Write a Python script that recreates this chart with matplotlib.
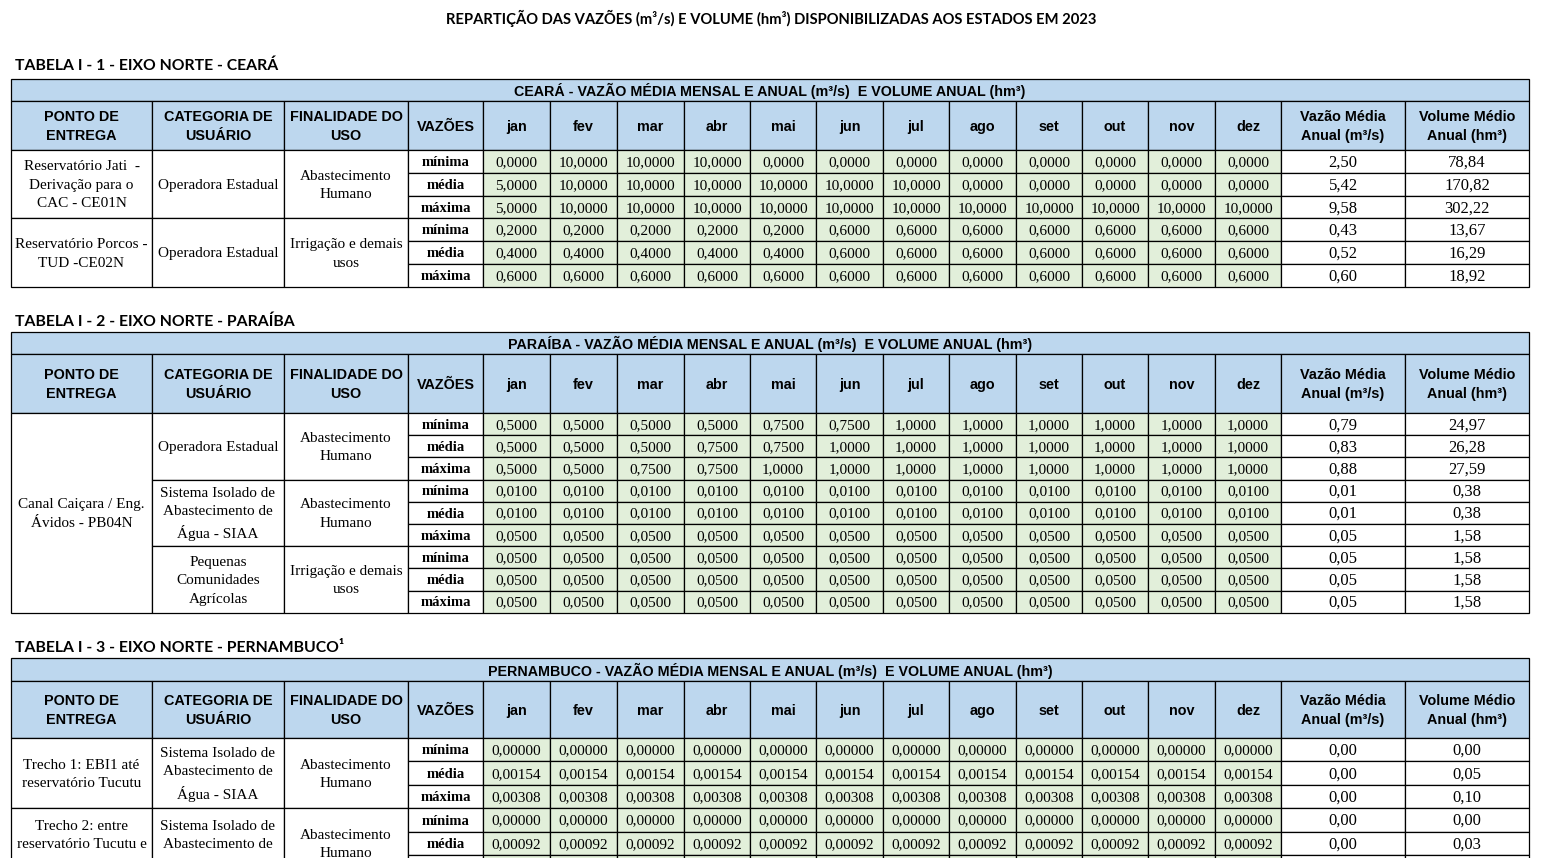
import matplotlib
matplotlib.use("Agg")
import matplotlib.pyplot as plt
from matplotlib.patches import Rectangle

# --- textos gerais ---
titulo = "REPARTIÇÃO DAS VAZÕES (m³/s) E VOLUME (hm³) DISPONIBILIZADAS AOS ESTADOS EM 2023"
meses = ["jan", "fev", "mar", "abr", "mai", "jun", "jul", "ago", "set", "out", "nov", "dez"]
vazoes = ["mínima", "média", "máxima"]
cab_esq = ["PONTO DE\nENTREGA", "CATEGORIA DE\nUSUÁRIO", "FINALIDADE DO\nUSO", "VAZÕES"]
cab_dir = ["Vazão Média\nAnual (m³/s)", "Volume Médio\nAnual (hm³)"]

# --- Tabela I-1 Ceará ---
ce_titulo = "TABELA I - 1 - EIXO NORTE - CEARÁ"
ce_faixa = "CEARÁ - VAZÃO MÉDIA MENSAL E ANUAL (m³/s)  E VOLUME ANUAL (hm³)"
ce_ponto = ["Reservatório Jati  -\nDerivação para o\nCAC - CE01N", "Reservatório Porcos -\nTUD -CE02N"]
ce_ponto_n = [3, 3]
ce_categoria = ["Operadora Estadual", "Operadora Estadual"]
ce_categoria_n = [3, 3]
ce_finalidade = ["Abastecimento\nHumano", "Irrigação e demais\nusos"]
ce_finalidade_n = [3, 3]
ce_mensal = [
    [0.0, 10.0, 10.0, 10.0, 0.0, 0.0, 0.0, 0.0, 0.0, 0.0, 0.0, 0.0],
    [5.0, 10.0, 10.0, 10.0, 10.0, 10.0, 10.0, 0.0, 0.0, 0.0, 0.0, 0.0],
    [5.0, 10.0, 10.0, 10.0, 10.0, 10.0, 10.0, 10.0, 10.0, 10.0, 10.0, 10.0],
    [0.2, 0.2, 0.2, 0.2, 0.2, 0.6, 0.6, 0.6, 0.6, 0.6, 0.6, 0.6],
    [0.4, 0.4, 0.4, 0.4, 0.4, 0.6, 0.6, 0.6, 0.6, 0.6, 0.6, 0.6],
    [0.6, 0.6, 0.6, 0.6, 0.6, 0.6, 0.6, 0.6, 0.6, 0.6, 0.6, 0.6],
]
ce_vazao = [2.50, 5.42, 9.58, 0.43, 0.52, 0.60]
ce_volume = [78.84, 170.82, 302.22, 13.67, 16.29, 18.92]

# --- Tabela I-2 Paraíba ---
pb_titulo = "TABELA I - 2 - EIXO NORTE - PARAÍBA"
pb_faixa = "PARAÍBA - VAZÃO MÉDIA MENSAL E ANUAL (m³/s)  E VOLUME ANUAL (hm³)"
pb_ponto = ["Canal Caiçara / Eng.\nÁvidos - PB04N"]
pb_ponto_n = [9]
pb_categoria = ["Operadora Estadual", "Sistema Isolado de\nAbastecimento de\nÁgua - SIAA",
                "Pequenas\nComunidades\nAgrícolas"]
pb_categoria_n = [3, 3, 3]
pb_finalidade = ["Abastecimento\nHumano", "Abastecimento\nHumano", "Irrigação e demais\nusos"]
pb_finalidade_n = [3, 3, 3]
pb_mensal = [
    [0.5, 0.5, 0.5, 0.5, 0.75, 0.75, 1.0, 1.0, 1.0, 1.0, 1.0, 1.0],
    [0.5, 0.5, 0.5, 0.75, 0.75, 1.0, 1.0, 1.0, 1.0, 1.0, 1.0, 1.0],
    [0.5, 0.5, 0.75, 0.75, 1.0, 1.0, 1.0, 1.0, 1.0, 1.0, 1.0, 1.0],
    [0.01, 0.01, 0.01, 0.01, 0.01, 0.01, 0.01, 0.01, 0.01, 0.01, 0.01, 0.01],
    [0.01, 0.01, 0.01, 0.01, 0.01, 0.01, 0.01, 0.01, 0.01, 0.01, 0.01, 0.01],
    [0.05, 0.05, 0.05, 0.05, 0.05, 0.05, 0.05, 0.05, 0.05, 0.05, 0.05, 0.05],
    [0.05, 0.05, 0.05, 0.05, 0.05, 0.05, 0.05, 0.05, 0.05, 0.05, 0.05, 0.05],
    [0.05, 0.05, 0.05, 0.05, 0.05, 0.05, 0.05, 0.05, 0.05, 0.05, 0.05, 0.05],
    [0.05, 0.05, 0.05, 0.05, 0.05, 0.05, 0.05, 0.05, 0.05, 0.05, 0.05, 0.05],
]
pb_vazao = [0.79, 0.83, 0.88, 0.01, 0.01, 0.05, 0.05, 0.05, 0.05]
pb_volume = [24.97, 26.28, 27.59, 0.38, 0.38, 1.58, 1.58, 1.58, 1.58]

# --- Tabela I-3 Pernambuco (cortada na parte de baixo) ---
pe_titulo = "TABELA I - 3 - EIXO NORTE - PERNAMBUCO¹"
pe_faixa = "PERNAMBUCO - VAZÃO MÉDIA MENSAL E ANUAL (m³/s)  E VOLUME ANUAL (hm³)"
pe_ponto = ["Trecho 1: EBI1 até\nreservatório Tucutu", "Trecho 2: entre\nreservatório Tucutu e\n"]
pe_ponto_n = [3, 3]
pe_categoria = ["Sistema Isolado de\nAbastecimento de\nÁgua - SIAA", "Sistema Isolado de\nAbastecimento de\n"]
pe_categoria_n = [3, 3]
pe_finalidade = ["Abastecimento\nHumano", "Abastecimento\nHumano"]
pe_finalidade_n = [3, 3]
pe_mensal = [
    [0.0, 0.0, 0.0, 0.0, 0.0, 0.0, 0.0, 0.0, 0.0, 0.0, 0.0, 0.0],
    [0.00154, 0.00154, 0.00154, 0.00154, 0.00154, 0.00154, 0.00154, 0.00154, 0.00154, 0.00154, 0.00154, 0.00154],
    [0.00308, 0.00308, 0.00308, 0.00308, 0.00308, 0.00308, 0.00308, 0.00308, 0.00308, 0.00308, 0.00308, 0.00308],
    [0.0, 0.0, 0.0, 0.0, 0.0, 0.0, 0.0, 0.0, 0.0, 0.0, 0.0, 0.0],
    [0.00092, 0.00092, 0.00092, 0.00092, 0.00092, 0.00092, 0.00092, 0.00092, 0.00092, 0.00092, 0.00092, 0.00092],
]
pe_vazao = [0.00, 0.00, 0.00, 0.00, 0.00]
pe_volume = [0.00, 0.05, 0.10, 0.00, 0.03]

AZUL = "#BDD7EE"
VERDE = "#E2EFDA"
SERIF = "Liberation Serif"
SANS = "Liberation Sans"
TIT = "Lato"

# bordas das colunas (pixels)
cols = [11, 152, 284, 408, 483, 550, 617, 684, 750, 816, 883, 949, 1016,
        1082, 1148, 1215, 1281, 1405, 1529]

fig = plt.figure(figsize=(15.44, 8.66), dpi=100)
ax = fig.add_axes([0, 0, 1, 1])
ax.set_xlim(0, 1544)
ax.set_ylim(866, 0)
ax.axis("off")


def cell(x0, x1, y0, y1, fc="white", txt="", dy=1.2, **kw):
    ax.add_patch(Rectangle((x0, y0), x1 - x0, y1 - y0, fc=fc, ec="black", lw=0.9))
    if txt:
        ax.text((x0 + x1) / 2, (y0 + y1) / 2 + dy, txt, ha="center", va="center", **kw)


def fmt(v, d):
    return f"{v:.{d}f}".replace(".", ",")


def merged(col, y0, rh, labels, spans):
    r = 0
    for lab, n in zip(labels, spans):
        cell(cols[col], cols[col + 1], y0 + r * rh, y0 + (r + n) * rh, txt=lab,
             fontsize=11, family=SERIF, linespacing=1.55)
        r += n


def tabela(top, ty, bh, hh, rh, tit, faixa, ponto, pn, cat, cn, fin, fn, mensal, vaz, vol, dec, nrows):
    ax.text(15, ty, tit, ha="left", va="center", fontsize=11.3, family=TIT, weight="bold")
    cell(cols[0], cols[-1], top, top + bh, AZUL, faixa, fontsize=10.3, family=SANS, weight="bold")
    y0 = top + bh
    y1 = y0 + hh
    heads = cab_esq + meses + cab_dir
    for i, h in enumerate(heads):
        cell(cols[i], cols[i + 1], y0, y1, AZUL, h, fontsize=10.4, family=SANS,
             weight="bold", linespacing=1.5)
    merged(0, y1, rh, ponto, pn)
    merged(1, y1, rh, cat, cn)
    merged(2, y1, rh, fin, fn)
    for r in range(nrows):
        ya = y1 + r * rh
        yb = ya + rh
        cell(cols[3], cols[4], ya, yb, txt=vazoes[r % 3], fontsize=10.5, family=SERIF, weight="bold")
        tem = r < len(mensal)
        for m in range(12):
            t = fmt(mensal[r][m], dec) if tem else ""
            cell(cols[4 + m], cols[5 + m], ya, yb, VERDE, t, fontsize=11, family=SERIF)
        cell(cols[16], cols[17], ya, yb, txt=fmt(vaz[r], 2) if tem else "", fontsize=12, family=SERIF)
        cell(cols[17], cols[18], ya, yb, txt=fmt(vol[r], 2) if tem else "", fontsize=12, family=SERIF)


ax.text(771, 18, titulo, ha="center", va="center", fontsize=10.6, family=TIT, weight="bold")

tabela(79, 66, 22, 49, 22.8, ce_titulo, ce_faixa, ce_ponto, ce_ponto_n, ce_categoria, ce_categoria_n,
       ce_finalidade, ce_finalidade_n, ce_mensal, ce_vazao, ce_volume, 4, 6)
tabela(332, 322, 22, 59, 22.2, pb_titulo, pb_faixa, pb_ponto, pb_ponto_n, pb_categoria, pb_categoria_n,
       pb_finalidade, pb_finalidade_n, pb_mensal, pb_vazao, pb_volume, 4, 9)
tabela(658, 648, 23, 57, 23.4, pe_titulo, pe_faixa, pe_ponto, pe_ponto_n, pe_categoria, pe_categoria_n,
       pe_finalidade, pe_finalidade_n, pe_mensal, pe_vazao, pe_volume, 5, 6)

# recorte da imagem original
ax.add_patch(Rectangle((0, 857.5), 1544, 20, fc="white", ec="none", zorder=10))

fig.savefig("out.png", dpi=100)
